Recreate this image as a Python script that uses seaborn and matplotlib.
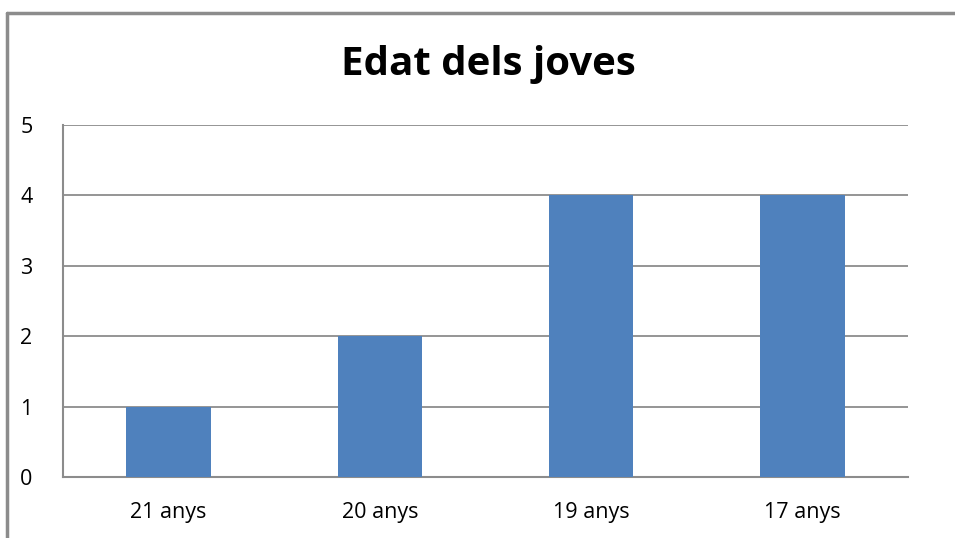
import matplotlib
matplotlib.use("Agg")
import matplotlib.pyplot as plt
import seaborn as sns
import pandas as pd
from matplotlib.lines import Line2D

categories = ["21 anys", "20 anys", "19 anys", "17 anys"]
values = [1, 2, 4, 4]
yticks = [0, 1, 2, 3, 4, 5]
title = "Edat dels joves"

sns.set_theme(style="white")
plt.rcParams['font.family'] = ['Open Sans', 'DejaVu Sans']

W, H = 955, 538
fig = plt.figure(figsize=(W / 100, H / 100), dpi=100)
ax = fig.add_axes([63 / W, 1 - 477 / H, (908 - 63) / W, (477 - 125) / H])

df = pd.DataFrame({"cat": categories, "val": values})
sns.barplot(data=df, x="cat", y="val", color="#4F81BD", saturation=1, width=0.4,
            linewidth=0, edgecolor="none", ax=ax, zorder=3)

ax.set_ylim(0, 5)
ax.set_xlim(-0.5, 3.5)
ax.set_yticks(yticks)
ax.yaxis.grid(True, color="#8C8C8C", linewidth=1.3, zorder=0)
ax.set_axisbelow(True)
ax.set_xlabel("")
ax.set_ylabel("")
for s in ["top", "right"]:
    ax.spines[s].set_visible(False)
for s in ["left", "bottom"]:
    ax.spines[s].set_color("#8C8C8C")
    ax.spines[s].set_linewidth(1.5)
ax.tick_params(axis="both", length=0, labelsize=15.5, colors="#000000")
ax.tick_params(axis="y", pad=22)
ax.tick_params(axis="x", pad=18)

fig.text(488 / W, 1 - 65 / H, title, ha="center", va="center", fontsize=29,
         fontweight="bold", color="#000000")

# outer frame (top and left edges visible)
fig.add_artist(Line2D([7 / W, 1], [1 - 13 / H, 1 - 13 / H], transform=fig.transFigure, color="#8C8C8C", linewidth=2.5))
fig.add_artist(Line2D([7 / W, 7 / W], [0, 1 - 13 / H], transform=fig.transFigure, color="#8C8C8C", linewidth=2.5))

fig.savefig("out.png", dpi=100)
